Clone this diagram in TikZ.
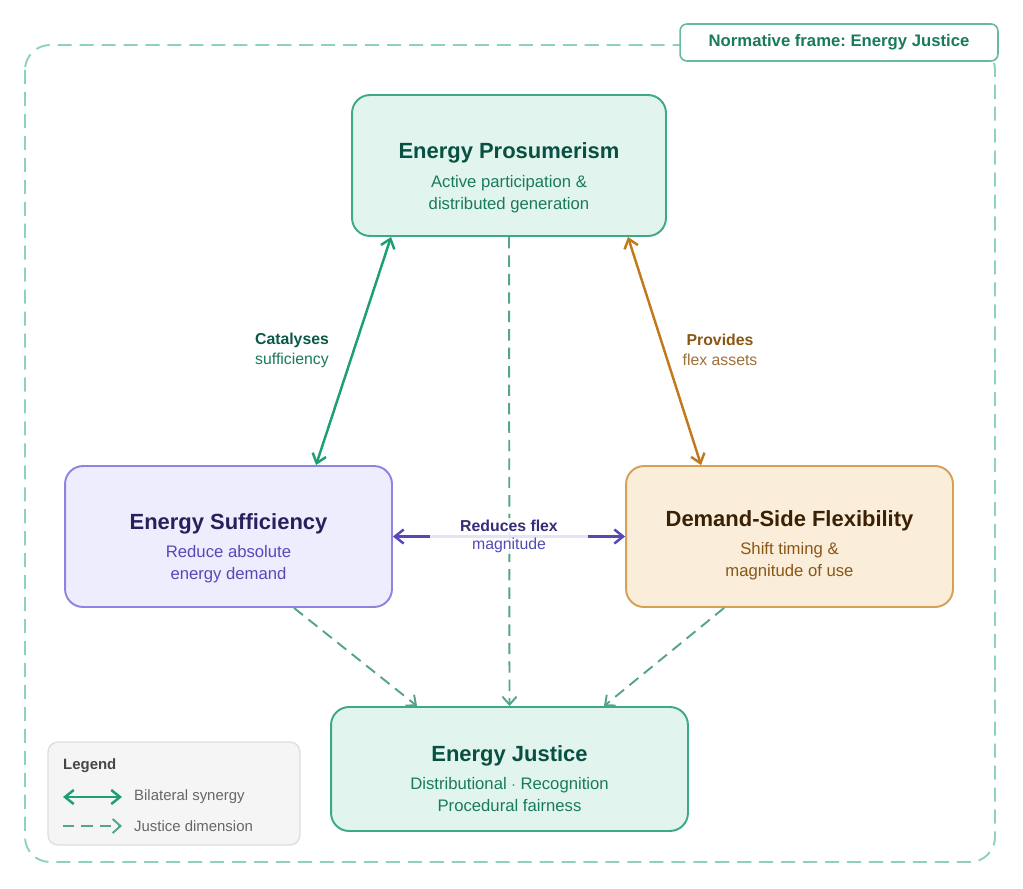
\documentclass[tikz,border=0pt]{standalone}
\usepackage{fontspec}
\setsansfont{Liberation Sans}
\usepackage{tikz}
\usetikzlibrary{calc}
\usetikzlibrary{positioning}
\usetikzlibrary{arrows.meta}
\definecolor{jline}{HTML}{3DAA85}
\definecolor{jfill}{HTML}{E1F5EE}
\definecolor{jtitle}{HTML}{085041}
\definecolor{jsub}{HTML}{1A7A5E}
\definecolor{jarrow}{HTML}{1D9E75}
\definecolor{jdash}{HTML}{55A586}
\definecolor{jframe}{HTML}{8ED3B8}
\definecolor{sline}{HTML}{8C85E0}
\definecolor{sfill}{HTML}{EEEDFE}
\definecolor{stitle}{HTML}{26215C}
\definecolor{ssub}{HTML}{534AB7}
\definecolor{fline}{HTML}{D6A055}
\definecolor{ffill}{HTML}{FAEEDA}
\definecolor{ftitle}{HTML}{3A2004}
\definecolor{fsub}{HTML}{8A5614}
\definecolor{farrow}{HTML}{C07A1C}
\newcommand{\boxtitle}[3][24pt]{{\color{#2}\fontsize{12.5}{15}\selectfont\bfseries\rule{0pt}{#1}#3}\\[3.5pt]}
\tikzset{
	>={Straight Barb[length=5pt,width=8pt]},
	box/.style={
		rectangle, 
		rounded corners=0.36cm,
		draw, line width=1.1pt,
		minimum width=6.54cm, 
		minimum height=2.82cm, 
		align=center,
		font=\sffamily\fontsize{9.5}{12.5}\selectfont},
	synergy/.style={<->, line width=1.4pt},
	justline/.style={-{Straight Barb[length=4.5pt,width=8pt]}, draw=jdash, line width=1.1pt, dash pattern=on 6.5pt off 4pt},
	lbl/.style={align=center, font=\sffamily\fontsize{9}{11.3}\selectfont},
	legtext/.style={anchor=west, text=black!60, font=\sffamily\fontsize{8.5}{10}\selectfont},
}
\begin{document}
\begin{tikzpicture}
			[x=0.02cm, y=-0.02cm, font=\sffamily]
			\useasboundingbox (0,0) rectangle (1023,888);
			% frame
			\draw[jframe, line width=1.1pt, dash pattern=on 8pt off 4.5pt, rounded corners=0.5cm] (25,45) rectangle (995,862);
			\node[rectangle, rounded corners=0.14cm, fill=white, draw=jline!80, line width=0.9pt, minimum width=6.36cm, minimum height=0.74cm, text=jsub, font=\sffamily\bfseries\fontsize{9.5}{11}\selectfont] (frame) at (839,42.5) {Normative frame:\ Energy Justice};

			\node[box, fill=jfill, draw=jline, text=jsub, minimum width=6.28cm] (prosum) at (509,165.5) {\boxtitle[23pt]{jtitle}{Energy Prosumerism}Active participation \&\\distributed generation};
			\node[box, fill=sfill, draw=sline, text=ssub] (suff) at (228.5,536.5) {\boxtitle[22pt]{stitle}{Energy Sufficiency}Reduce absolute\\energy demand};
			\node[box, fill=ffill, draw=fline, text=fsub] (flex) at (789.5,536.5) {\boxtitle[19pt]{ftitle}{Demand-Side Flexibility}Shift timing \&\\magnitude of use};
			\node[box, fill=jfill, draw=jline, text=jsub, minimum width=7.14cm, minimum height=2.48cm] (justice) at (509.5,769) {\boxtitle[20pt]{jtitle}{Energy Justice}Distributional $\cdot$ Recognition\\Procedural fairness};

			\draw[justline] (prosum.south) -- (justice.north);
			\draw[justline] ([xshift=4.6cm]suff.south west) -- ([xshift=1.74cm]justice.north west);
			\draw[justline] ([xshift=1.98cm]flex.south west) -- ([xshift=-1.7cm]justice.north east);

			\draw[synergy, jarrow] ([xshift=0.8cm]prosum.south west) -- ([xshift=5.04cm]suff.north west);
			\draw[synergy, farrow] ([xshift=-0.78cm]prosum.south east) -- ([xshift=1.52cm]flex.north west);
			\draw[synergy, ssub] (suff.east) -- (flex.west);

			\node[lbl, text=jsub] (cat) at (292,350) {\textbf{\color{jtitle!80!jsub}Catalyses}\\sufficiency};
			\node[lbl, text=fsub!85!white] (prov) at (720,350) {\textbf{\color{fsub}Provides}\\flex assets};
			\node[lbl, text=ssub, fill=white, fill opacity=0.85, text opacity=1, inner xsep=0.6cm, inner ysep=1pt, font=\sffamily\fontsize{9}{10.2}\selectfont] (redu) at (509,536) {\textbf{\color{stitle!70!ssub}Reduces flex}\\magnitude};

			% legend
			\node[rectangle, rounded corners=0.2cm, fill=black!4, draw=black!13, line width=0.8pt, minimum width=5.04cm, minimum height=2.06cm] (legend) at (174,793.5) {};
			\node[anchor=west, text=black!72, font=\sffamily\bfseries\fontsize{8.5}{10}\selectfont] (legtitle) at (57,766) {Legend};
			\coordinate (syna) at (63,797);
			\coordinate (synb) at (122,797);
			\coordinate (jusa) at (63,826);
			\coordinate (jusb) at (122,826);
			\draw[synergy, jarrow] (syna) -- (synb);
			\draw[justline] (jusa) -- (jusb);
			\node[legtext] (legsyn) at (128,797) {Bilateral synergy};
			\node[legtext] (legjus) at (128,826) {Justice dimension};
			\end{tikzpicture}
\end{document}
